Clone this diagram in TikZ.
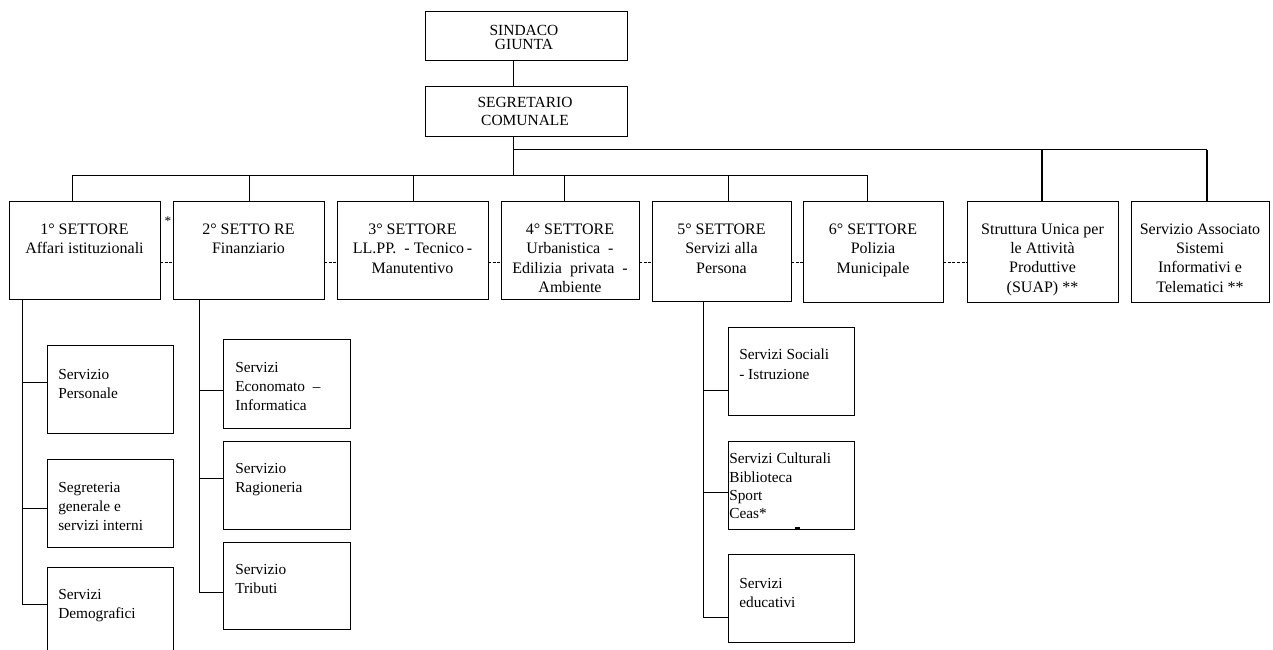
\documentclass[tikz,border=0pt]{standalone}
\usepackage{fontspec}
\setmainfont{Liberation Serif}
\newcommand\bx[5]{\node[box, minimum width={(#4-#2)*0.75pt}, minimum height={(#5-#3)*0.75pt}] (#1) at ({(#2+#4)/2},{(#3+#5)/2}) {};}
\begin{document}
\begin{tikzpicture}[x=0.75pt,y=-0.75pt,
  box/.style={draw, line width=0.75pt, inner sep=0pt, outer sep=0pt},
  ln/.style={line width=0.75pt},
  thk/.style={line width=1.1pt},
  dl/.style={line width=0.75pt, dash pattern=on 2.2pt off 1.3pt},
  ttl/.style={inner sep=0pt, align=center, anchor=north, font=\fontsize{12}{14.3}\selectfont},
  top/.style={inner sep=0pt, align=center, anchor=north, font=\fontsize{11.6}{#1}\selectfont},
  sub/.style={inner sep=0pt, align=left, anchor=north west, font=\fontsize{11.5}{14.4}\selectfont},
]
\useasboundingbox (0,0) rectangle (1273,649);
% top boxes
\bx{sind}{425}{12}{627}{61}
\bx{segr}{425}{87}{627}{137}
\node[top=10.5pt] (sindt) at (524,25) {SINDACO\\GIUNTA};
\node[top=13.5pt] (segrt) at (525,97) {SEGRETARIO\\COMUNALE};
% sector boxes
\bx{s1}{9}{201}{160}{299}
\bx{s2}{173}{201}{324}{299}
\bx{s3}{337}{201}{488}{299}
\bx{s4}{501}{201}{639}{299}
\bx{s5}{652}{201}{791}{301}
\bx{s6}{803}{201}{943}{302}
\bx{s7}{967}{201}{1118}{302}
\bx{s8}{1131}{201}{1269}{302}
\node[ttl] (s1t) at (s1.north |- 0,224) {1° SETTORE\\Affari istituzionali};
\node[ttl] (s2t) at (s2.north |- 0,224) {2° SETTO RE\\Finanziario};
\node[ttl] (s3t) at (s3.north |- 0,224) {3° SETTORE\\LL.PP.\ \ - Tecnico\,-\\Manutentivo};
\node[ttl] (s4t) at (s4.north |- 0,224) {4° SETTORE\\Urbanistica\ \ -\\Edilizia\ \ privata\ \ -\\Ambiente};
\node[ttl] (s5t) at (s5.north |- 0,224) {5° SETTORE\\Servizi alla\\Persona};
\node[ttl] (s6t) at (s6.north |- 0,224) {6° SETTORE\\Polizia\\Municipale};
\node[ttl] (s7t) at (s7.north |- 0,224) {Struttura Unica per\\le Attività\\Produttive\\(SUAP) **};
\node[ttl] (s8t) at (s8.north |- 0,224) {Servizio Associato\\Sistemi\\Informativi e\\Telematici **};
\node[inner sep=0pt, font=\fontsize{10}{12}\selectfont] (ast) at (168,221) {*};
% top connectors
\draw[ln] (sind.south -| 513,0) -- (segr.north -| 513,0);
\draw[ln] (segr.south -| 513,0) -- (513,175);
\draw[ln] (513,150) -- (1207,150);
\draw[ln] (72,175) -- (867,175);
\draw[ln] (72,175) -- (s1.north -| 72,0);
\draw[ln] (249,175) -- (s2.north -| 249,0);
\draw[ln] (413,175) -- (s3.north -| 413,0);
\draw[ln] (564,175) -- (s4.north -| 564,0);
\draw[ln] (728,175) -- (s5.north -| 728,0);
\draw[ln] (867,175) -- (s6.north -| 867,0);
\draw[thk] (1042,150) -- (s7.north -| 1042,0);
\draw[thk] (1207,150) -- (s8.north -| 1207,0);
% dashed links
\draw[dl] (s1.east |- 0,262) -- (s2.west |- 0,262);
\draw[dl] (s2.east |- 0,262) -- (s3.west |- 0,262);
\draw[dl] (s3.east |- 0,262) -- (s4.west |- 0,262);
\draw[dl] (s4.east |- 0,262) -- (s5.west |- 0,262);
\draw[dl] (s5.east |- 0,262) -- (s6.west |- 0,262);
\draw[dl] (s6.east |- 0,262) -- (s7.west |- 0,262);
% sector 1 children
\bx{p1}{47}{345}{173}{433}
\bx{p2}{47}{459}{173}{547}
\bx{p3}{47}{567}{173}{662}
\node[sub] (p1t) at (58,369) {Servizio\\Personale};
\node[sub] (p2t) at (58,482) {Segreteria\\generale e\\servizi interni};
\node[sub] (p3t) at (58,589) {Servizi\\Demografici};
\draw[ln] (s1.south -| 22,0) -- (22,604);
\draw[ln] (22,382) -- (p1.west |- 0,382);
\draw[ln] (22,508) -- (p2.west |- 0,508);
\draw[ln] (22,604) -- (p3.west |- 0,604);
% sector 2 children
\bx{e1}{223}{339}{350}{428}
\bx{e2}{223}{441}{350}{529}
\bx{e3}{223}{542}{350}{629}
\node[sub] (e1t) at (235,362) {Servizi\\Economato\ \ –\\Informatica};
\node[sub] (e2t) at (235,463) {Servizio\\Ragioneria};
\node[sub] (e3t) at (235,564) {Servizio\\Tributi};
\draw[ln] (s2.south -| 199,0) -- (199,592);
\draw[ln] (199,390) -- (e1.west |- 0,390);
\draw[ln] (199,478) -- (e2.west |- 0,478);
\draw[ln] (199,592) -- (e3.west |- 0,592);
% sector 5 children
\bx{c1}{728}{327}{854}{415}
\bx{c2}{728}{441}{854}{529}
\bx{c3}{728}{554}{854}{642}
\node[sub] (c1t) at (739,349) {Servizi Sociali\\- Istruzione};
\node[sub, font=\fontsize{11.5}{13.7}\selectfont] (c2t) at (729,453) {Servizi Culturali\\Biblioteca\\Sport\\Ceas*};
\node[sub] (c3t) at (739,578) {Servizi\\educativi};
\draw[ln] (s5.south -| 703,0) -- (703,617);
\draw[ln] (703,390) -- (c1.west |- 0,390);
\draw[ln] (703,492) -- (c2.west |- 0,492);
\draw[ln] (703,617) -- (c3.west |- 0,617);
\draw[line width=1pt] (795,528) -- (800,528);
\end{tikzpicture}
\end{document}
